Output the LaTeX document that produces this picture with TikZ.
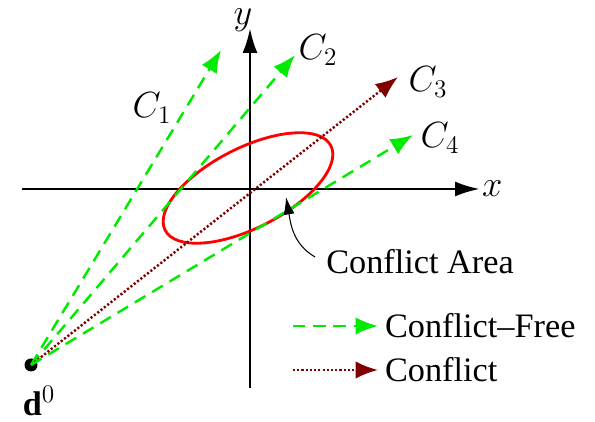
\documentclass[tikz,border=0pt]{standalone}
\usepackage{fontspec}
\setmainfont{Liberation Serif}
\usepackage{tikz}
\usetikzlibrary{arrows.meta, positioning, calc}

\definecolor{freegreen}{RGB}{0,235,0}
\definecolor{conflictred}{RGB}{128,0,0}

\begin{document}
\begin{tikzpicture}[
    every node/.style={font=\fontsize{19.5}{22}\selectfont},
    axis/.style={line width=1.6pt, -{Latex[length=5mm, width=3mm]}},
    free/.style={freegreen, line width=1.4pt, dash pattern=on 7pt off 4.5pt, -{Latex[length=4.5mm, width=3.5mm]}},
    conflict/.style={conflictred, line width=1.4pt, dash pattern=on 1.2pt off 1.2pt, -{Latex[length=4.5mm, width=3.5mm]}},
    area/.style={red, line width=1.6pt},
    note/.style={line width=0.6pt, -{Latex[length=3.5mm, width=2.2mm]}}
]
\useasboundingbox (0,0) rectangle (11.9,8.44);

% --- Axes ---
\coordinate (xs) at (0.44,4.66);
\coordinate (xe) at (9.6,4.66);
\coordinate (ys) at (5.0,0.68);
\coordinate (ye) at (5.0,7.88);
\draw[axis] (xs) -- (xe);
\draw[axis] (ys) -- (ye);
\node[anchor=west, inner sep=1pt] (xlab) at (xe) {$x$};
\node[anchor=north, inner sep=0pt] (ylab) at (4.86,8.27) {$y$};

% --- Conflict area ---
\draw[area, rotate around={27:(4.96,4.68)}] (4.96,4.68) ellipse (1.86cm and 0.8cm);
\coordinate (hit) at (5.72,4.5);

% --- Start point ---
\node[circle, fill=black, inner sep=0pt, minimum size=0.26cm] (d0) at (0.62,1.14) {};
\node[inner sep=1pt] (d0lab) at (0.78,0.42) {$\mathbf{d}^0$};

% --- Candidate paths ---
\coordinate (c1) at (4.42,7.44);
\coordinate (c2) at (5.9,7.34);
\coordinate (c3) at (7.96,6.9);
\coordinate (c4) at (8.26,5.74);
\draw[free] (d0.center) -- (c1);
\draw[free] (d0.center) -- (c2);
\draw[conflict] (d0.center) -- (c3);
\draw[free] (d0.center) -- (c4);
\node (c1lab) at (3.04,6.28) {$C_1$};
\node (c2lab) at (6.36,7.44) {$C_2$};
\node (c3lab) at (8.56,6.8) {$C_3$};
\node (c4lab) at (8.8,5.68) {$C_4$};

% --- Annotation ---
\node (calab) at (8.4,3.2) {Conflict Area};
\draw[note] ([xshift=-0.1cm, yshift=0.1cm]calab.west) to[out=150, in=-80] (hit);

% --- Legend ---
\coordinate (lf1) at (5.86,1.92);
\coordinate (lf2) at (7.56,1.92);
\coordinate (lc1) at (5.86,1.04);
\coordinate (lc2) at (7.56,1.04);
\draw[free] (lf1) -- (lf2);
\draw[conflict] (lc1) -- (lc2);
\node[anchor=west, inner sep=1pt] (lfree) at ([xshift=0.1cm]lf2) {Conflict--Free};
\node[anchor=west, inner sep=1pt] (lconf) at ([xshift=0.1cm]lc2) {Conflict};
\end{tikzpicture}
\end{document}
